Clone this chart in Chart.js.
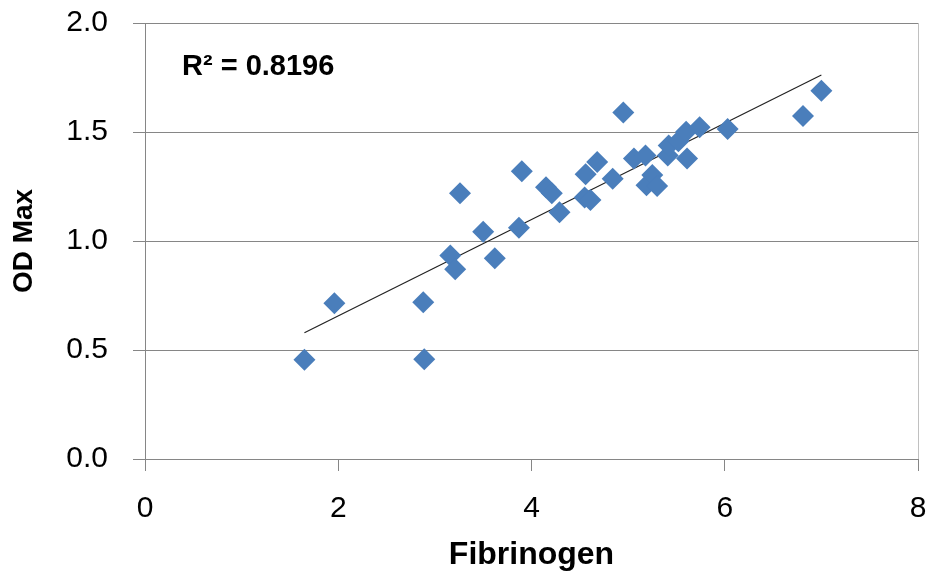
<!doctype html>
<html>
  <head>
    <meta charset="utf-8">
    <title>OD Max vs Fibrinogen</title>
    <script src="https://cdn.jsdelivr.net/npm/chart.js@4/dist/chart.umd.min.js"></script>
    <style>
      html, body { margin: 0; padding: 0; background: #fff; }
      #wrap { width: 932px; height: 582px; }
    </style>
  </head>
  <body>
  <div id="wrap"><canvas id="myChart"></canvas></div>
  <script>
    // values
    const fibrinogen = [1.65, 1.96, 2.88, 2.89, 3.16, 3.21, 3.26, 3.50, 3.62, 3.87, 3.90,
      4.15, 4.21, 4.29, 4.55, 4.56, 4.61, 4.68, 4.84, 4.95, 5.06, 5.18, 5.19, 5.25,
      5.30, 5.41, 5.42, 5.52, 5.61, 5.60, 5.74, 6.03, 6.81, 7.00];
    const odMax = [0.455, 0.714, 0.719, 0.457, 0.933, 0.870, 1.219, 1.043, 0.921, 1.061, 1.320,
      1.246, 1.219, 1.132, 1.200, 1.306, 1.188, 1.362, 1.286, 1.590, 1.379, 1.392, 1.256, 1.303,
      1.252, 1.392, 1.438, 1.458, 1.378, 1.501, 1.522, 1.514, 1.573, 1.689];
    const xTicks = [0, 2, 4, 6, 8];
    const yTicks = [0.0, 0.5, 1.0, 1.5, 2.0];
    const r2Label = 'R\u00B2 = 0.8196';

    const points = fibrinogen.map((x, i) => ({x: x, y: odMax[i]}));

    // least squares trend line, drawn over the range of the data
    const n = points.length;
    const mx = fibrinogen.reduce((a, b) => a + b, 0) / n;
    const my = odMax.reduce((a, b) => a + b, 0) / n;
    let sxy = 0, sxx = 0;
    points.forEach(p => { sxy += (p.x - mx) * (p.y - my); sxx += (p.x - mx) * (p.x - mx); });
    const slope = sxy / sxx;
    const icpt = my - slope * mx;
    const xMin = Math.min(...fibrinogen), xMax = Math.max(...fibrinogen);
    const trend = [{x: xMin, y: icpt + slope * xMin}, {x: xMax, y: icpt + slope * xMax}];

    const gridCol = '#868686';
    const font = 'Liberation Sans';

    const r2Plugin = {
      id: 'r2',
      afterDatasetsDraw(chart) {
        const c = chart.ctx, a = chart.chartArea;
        c.save();
        c.font = 'bold 29px "' + font + '"';
        c.fillStyle = '#000';
        c.textBaseline = 'alphabetic';
        c.fillText(r2Label, a.left + 37, a.top + 52);
        c.restore();
      }
    };

    const ctx = document.getElementById('myChart').getContext('2d');
    const myChart = new Chart(ctx, {
      type: 'scatter',
      data: {
        datasets: [
          {
            label: 'OD Max',
            data: points,
            pointStyle: 'rectRot',
            pointRadius: 11,
            pointHoverRadius: 11,
            backgroundColor: '#4a7ebb',
            borderColor: '#4a7ebb',
            borderWidth: 0,
          },
          {
            label: 'Linear',
            type: 'line',
            data: trend,
            borderColor: '#222',
            borderWidth: 1.2,
            pointRadius: 0,
            fill: false,
          },
        ]
      },
      plugins: [r2Plugin],
      options: {
        responsive: true,
        maintainAspectRatio: false,
        animation: false,
        layout: { padding: { top: 23, right: 14, left: 0, bottom: 0 } },
        plugins: {
          legend: { display: false },
          tooltip: { enabled: false },
        },
        scales: {
          x: {
            type: 'linear',
            min: xTicks[0],
            max: xTicks[xTicks.length - 1],
            afterBuildTicks: (scale) => { scale.ticks = xTicks.map(v => ({value: v})); },
            afterFit: (scale) => {
              scale.height = 123;
              scale.paddingLeft = 0;
              scale.paddingRight = 0;
            },
            border: { color: gridCol, width: 1 },
            grid: {
              color: (c) => c.tick && c.tick.value === 8 ? '#c0c0c0' : 'transparent',
              tickColor: gridCol,
              tickLength: 12,
            },
            ticks: {
              color: '#000',
              padding: 20,
              font: { family: font, size: 30 },
            },
            title: {
              display: true,
              text: 'Fibrinogen',
              color: '#000',
              font: { family: font, size: 32, weight: 'bold' },
              padding: { top: 0, bottom: 8 },
            },
          },
          y: {
            type: 'linear',
            min: yTicks[0],
            max: yTicks[yTicks.length - 1],
            afterBuildTicks: (scale) => { scale.ticks = yTicks.map(v => ({value: v})); },
            afterFit: (scale) => {
              scale.width = 145;
              scale.paddingTop = 0;
              scale.paddingBottom = 0;
            },
            border: { color: gridCol, width: 1 },
            grid: {
              color: gridCol,
              tickColor: gridCol,
              tickLength: 12,
            },
            ticks: {
              color: '#000',
              padding: 25,
              font: { family: font, size: 30 },
              callback: (value) => value.toFixed(1),
            },
            title: {
              display: true,
              text: 'OD Max',
              color: '#000',
              font: { family: font, size: 28, weight: 'bold' },
              padding: { top: 7, bottom: 0 },
            },
          }
        }
      }
    });
  </script>
  </body>
</html>
